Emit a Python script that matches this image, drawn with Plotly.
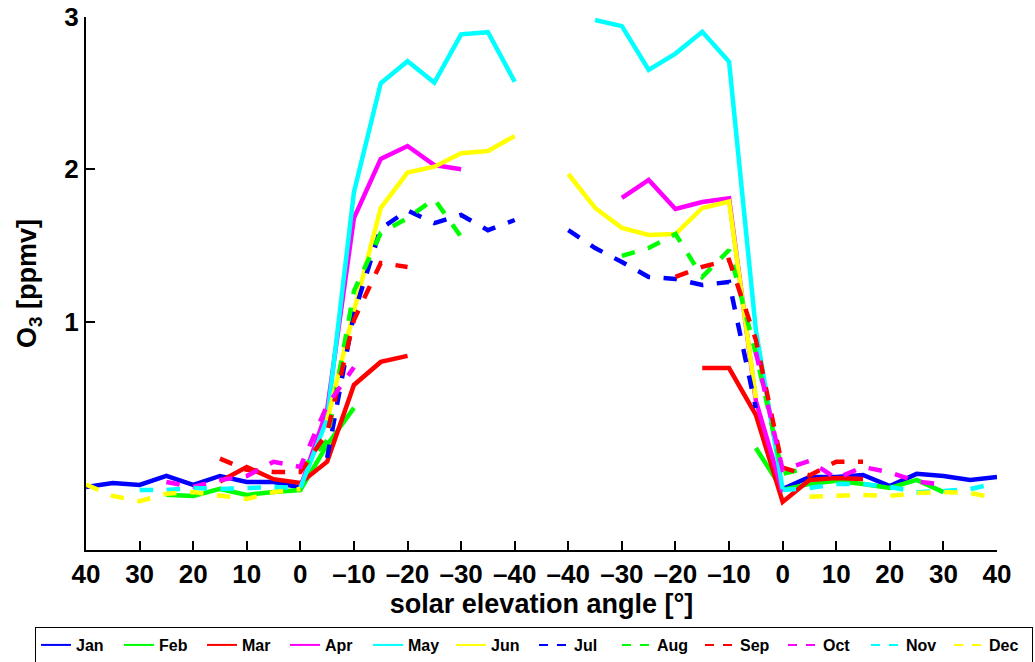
import plotly.graph_objects as go

# Solar elevation angle grids: left panel runs 40 -> -40 (sunset side),
# right panel runs -40 -> 40 (sunrise side), 5 degree steps.
ANGLES_L = [40, 35, 30, 25, 20, 15, 10, 5, 0, -5, -10, -15, -20, -25, -30, -35, -40]
ANGLES_R = [-40, -35, -30, -25, -20, -15, -10, -5, 0, 5, 10, 15, 20, 25, 30, 35, 40]

TICK_TEXT = ["40", "30", "20", "10", "0", "–10", "–20", "–30", "–40",
             "–40", "–30", "–20", "–10", "0", "10", "20", "30", "40"]

MONTHS = ["Jan", "Feb", "Mar", "Apr", "May", "Jun",
          "Jul", "Aug", "Sep", "Oct", "Nov", "Dec"]

N = None
# Monthly mean O3 [ppmv] per elevation bin (None = no data)
jan_l = [-0.086, -0.06, -0.073, -0.014, -0.073, -0.014, -0.053, -0.053, -0.09, N, N, N, N, N, N, N, N]
jan_r = [N, N, N, N, N, N, N, N, -0.10, -0.02, -0.02, -0.007, -0.08, 0.0, -0.014, -0.04, -0.02]

feb_l = [N, N, N, -0.138, -0.145, -0.099, -0.138, -0.119, -0.106, 0.19, 0.433, N, N, N, N, N, N]
feb_r = [N, N, N, N, N, N, N, 0.17, -0.106, -0.066, -0.046, -0.066, -0.093, -0.04, -0.12, N, N]

mar_l = [N, N, N, N, N, -0.05, 0.045, -0.035, -0.06, 0.08, 0.584, 0.735, 0.775, N, N, N, N]
mar_r = [N, N, N, N, N, 0.695, 0.695, 0.387, -0.184, -0.04, -0.027, -0.033, N, N, N, N, N]

apr_l = [N, N, N, N, N, N, N, N, -0.09, 0.42, 1.68, 2.068, 2.153, 2.028, 2.0, N, N]
apr_r = [N, N, 1.812, 1.93, 1.739, 1.785, 1.81, 0.48, -0.12, N, N, N, N, N, N, N, N]

may_l = [N, N, N, N, N, N, N, N, -0.093, 0.36, 1.85, 2.565, 2.71, 2.57, 2.886, 2.90, 2.575]
may_r = [N, 2.98, 2.94, 2.652, 2.76, 2.903, 2.706, 0.945, -0.10, N, N, N, N, N, N, N, N]

jun_l = [N, N, N, N, N, N, N, N, N, 0.35, 1.07, 1.746, 1.978, 2.017, 2.105, 2.12, 2.219]
jun_r = [1.969, 1.746, 1.615, 1.569, 1.575, 1.746, 1.788, 0.497, N, N, N, N, N, N, N, N, N]

jul_l = [N, N, N, N, N, N, N, N, N, 0.105, 1.05, 1.61, 1.73, 1.647, 1.70, 1.60, 1.667]
jul_r = [1.60, 1.483, 1.391, 1.293, 1.28, 1.24, 1.26, 0.433, N, N, N, N, N, N, N, N, N]

aug_l = [N, N, N, N, N, N, N, N, 0.02, 0.22, 1.2, 1.582, 1.68, 1.805, 1.556, N, N]
aug_r = [N, N, 1.431, 1.483, 1.575, 1.293, 1.47, 0.79, 0.0, 0.04, N, N, N, N, N, N, N]

sep_l = [N, N, N, N, N, 0.1, 0.026, 0.013, 0.013, 0.27, 1.01, 1.385, 1.359, N, N, N, N]
sep_r = [N, N, N, N, 1.293, 1.359, 1.405, 0.88, 0.04, -0.01, 0.08, 0.08, N, N, N, N, N]

oct_l = [N, N, N, -0.053, -0.086, -0.04, -0.014, 0.079, 0.046, 0.45, 0.70, N, N, N, N, N, N]
oct_r = [N, N, N, N, N, N, N, 0.80, 0.026, 0.085, -0.03, 0.045, 0.01, -0.05, -0.07, N, N]

nov_l = [N, N, -0.106, -0.106, -0.093, -0.099, -0.093, -0.086, -0.093, N, N, N, N, N, N, N, N]
nov_r = [N, N, N, N, N, N, N, N, -0.106, -0.093, -0.066, -0.066, -0.086, -0.12, -0.112, -0.10, -0.06]

dec_l = [-0.07, -0.145, -0.18, -0.13, -0.12, -0.145, -0.165, -0.12, -0.10, N, N, N, N, N, N, N, N]
dec_r = [N, N, N, N, N, N, N, N, N, -0.15, -0.145, -0.138, -0.145, -0.126, -0.12, -0.126, -0.16]

LEFT = [jan_l, feb_l, mar_l, apr_l, may_l, jun_l, jul_l, aug_l, sep_l, oct_l, nov_l, dec_l]
RIGHT = [jan_r, feb_r, mar_r, apr_r, may_r, jun_r, jul_r, aug_r, sep_r, oct_r, nov_r, dec_r]

COLORS = ["#0000ff", "#00ff00", "#ff0000", "#ff00ff", "#00ffff", "#ffff00"] * 2
DASHES = ["solid"] * 6 + ["dash"] * 6

# Both panels share one axis: tick index 0..8 for the left panel
# (40 -> -40) and 9..17 for the right panel (-40 -> 40).
pos_l = [(40 - a) / 10 for a in ANGLES_L]
pos_r = [9 + (a + 40) / 10 for a in ANGLES_R]

fig = go.Figure()
for name, yl, yr, col, dash in zip(MONTHS, LEFT, RIGHT, COLORS, DASHES):
    fig.add_trace(go.Scatter(
        x=pos_l + [None] + pos_r,
        y=yl + [None] + yr,
        mode="lines",
        line=dict(color=col, width=4.5, dash=dash),
        connectgaps=False,
        showlegend=False,
        name=name,
    ))

# Legend entries with thin sample lines
for name, col, dash in zip(MONTHS, COLORS, DASHES):
    fig.add_trace(go.Scatter(
        x=[None], y=[None], mode="lines", name=name,
        line=dict(color=col, width=2, dash=dash),
        showlegend=True,
    ))

bold = dict(family="Liberation Sans, Arial, sans-serif", color="black", weight="bold")

fig.update_layout(
    width=1035, height=662,
    margin=dict(l=86, r=38, t=17, b=112, autoexpand=False),
    plot_bgcolor="white", paper_bgcolor="white",
    font=dict(family="Liberation Sans, Arial, sans-serif", color="black"),
    legend=dict(
        orientation="h",
        x=-0.056, xanchor="left",
        y=-0.1445, yanchor="top",
        bordercolor="black", borderwidth=1, bgcolor="white",
        font=dict(size=16, **bold),
        entrywidth=38, entrywidthmode="pixels",
        tracegroupgap=0,
    ),
    xaxis=dict(
        range=[0, 17],
        tickmode="array",
        tickvals=list(range(18)),
        ticktext=TICK_TEXT,
        ticks="inside", ticklen=9, tickwidth=1.5, tickcolor="black",
        showline=True, linewidth=2, linecolor="black",
        showgrid=False, zeroline=False, automargin=False,
        tickfont=dict(size=26, **bold),
        title=dict(text="solar elevation angle [°]", font=dict(size=27, **bold), standoff=4),
    ),
    yaxis=dict(
        range=[-0.5, 3],
        tickmode="array",
        tickvals=[1, 2, 3],
        ticktext=["1", "2", "3"],
        ticks="inside", ticklen=9, tickwidth=1.5, tickcolor="black",
        showline=True, linewidth=2, linecolor="black",
        showgrid=False, zeroline=False, automargin=False,
        tickfont=dict(size=26, **bold),
        title=dict(text="O<sub>3</sub> [ppmv]", font=dict(size=27, **bold), standoff=20),
    ),
)

fig.write_html("out.html")
